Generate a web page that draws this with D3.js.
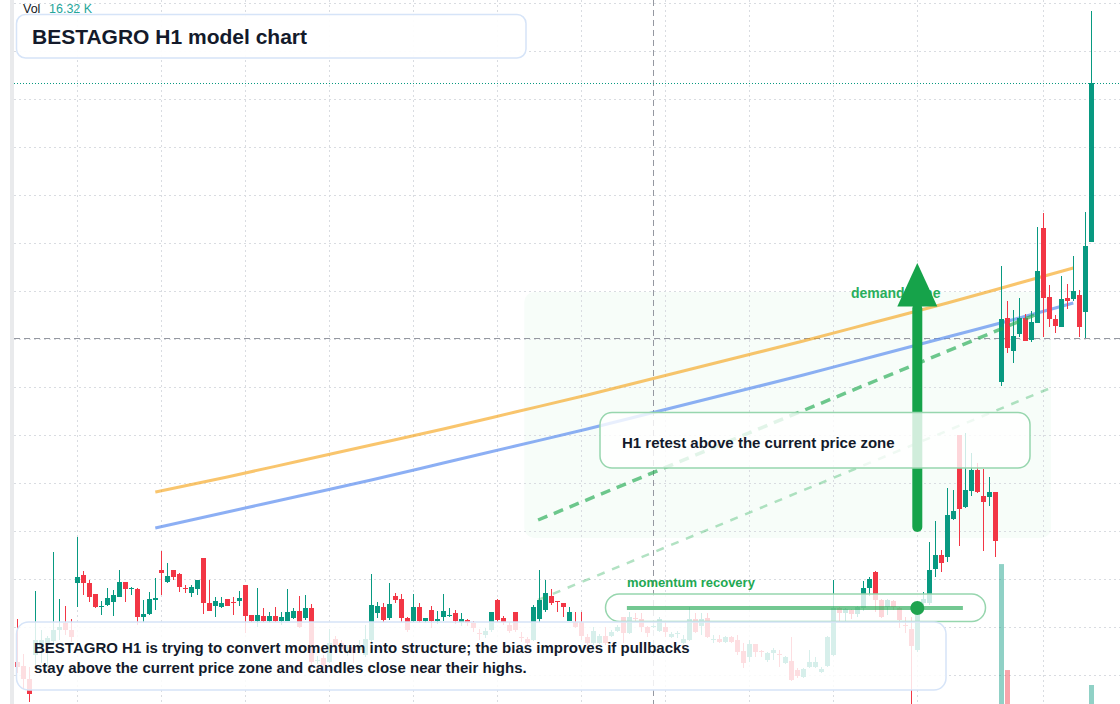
<!DOCTYPE html>
<html><head><meta charset="utf-8">
<script src="https://cdn.jsdelivr.net/npm/d3@7"></script>
<style>
html,body{margin:0;padding:0;background:#fff;}
svg{display:block;font-family:"Liberation Sans",Arial,Helvetica,sans-serif;}
</style></head><body>
<svg id="chart" width="1120" height="704"></svg>
<script>
// ---------- data ----------
const openP = [
.338,.334,.321,.345,.352,.355,.359,.370,.377,.370,
.417,.425,.417,.406,.393,.395,.398,.403,.418,.411,
.411,.383,.386,.400,.430,.418,.430,.426,.412,.407,
.411,.442,.397,.394,.393,.401,.398,.399,.415,.385,
.379,.384,.379,.384,.379,.379,.382,.389,.382,.392,
.339,.342,.338,.361,.357,.349,.353,.350,.345,.360,
.387,.393,.382,.404,.401,.382,.379,.393,.379,.390,
.379,.383,.384,.387,.378,.380,.377,.367,.365,.370,
.400,.382,.375,.388,.363,.361,.360,.381,.390,.404,
.399,.397,.379,.378,.378,.363,.357,.357,.364,.364,
.369,.383,.367,.382,.381,.373,.373,.369,.373,.363,
.366,.357,.360,.381,.374,.382,.360,.361,.358,.363,
.360,.349,.343,.356,.349,.340,.347,.346,.337,.339,
.330,.323,.333,.333,.328,.334,.345,.392,.387,.390,
.386,.392,.412,.428,.400,.393,.399,.392,.375,.371,
.350,.397,.397,.431,.445,.443,.481,.565,.493,.509,
.530,.504,.503,.508,.618,.682,.649,.666,.682,.660,
.677,.772,.703,.681,.673,.702,.701,.705,.688,.758];
const highP = [
.381,.346,.333,.409,.370,.364,.448,.401,.394,.381,
.463,.429,.420,.406,.399,.412,.410,.430,.418,.413,
.412,.400,.408,.422,.449,.437,.430,.427,.415,.415,
.420,.442,.420,.403,.403,.401,.403,.409,.415,.385,
.412,.392,.388,.393,.388,.411,.392,.404,.405,.396,
.344,.345,.371,.364,.360,.355,.355,.360,.375,.426,
.398,.397,.417,.407,.406,.383,.406,.397,.382,.394,
.389,.406,.392,.390,.387,.381,.379,.371,.372,.388,
.401,.384,.378,.388,.368,.363,.395,.430,.420,.411,
.399,.397,.393,.388,.388,.366,.373,.366,.373,.370,
.375,.383,.388,.387,.387,.374,.375,.383,.378,.368,
.369,.365,.393,.387,.387,.387,.365,.365,.364,.364,
.365,.357,.360,.356,.350,.348,.352,.350,.344,.363,
.332,.332,.350,.343,.333,.364,.420,.393,.392,.391,
.394,.419,.423,.429,.401,.401,.400,.393,.383,.383,
.388,.408,.458,.479,.450,.512,.510,.565,.567,.547,
.537,.531,.523,.508,.734,.699,.690,.702,.686,.689,
.773,.787,.715,.685,.724,.716,.744,.710,.788,.989];
const lowP = [
.327,.311,.298,.335,.337,.332,.355,.360,.365,.358,
.393,.405,.398,.392,.385,.394,.384,.403,.398,.405,
.375,.378,.385,.390,.405,.417,.420,.408,.407,.403,
.405,.386,.389,.383,.392,.394,.385,.394,.367,.378,
.373,.378,.377,.378,.375,.379,.381,.372,.380,.332,
.336,.333,.337,.350,.348,.344,.337,.348,.343,.355,
.382,.378,.380,.397,.378,.368,.378,.377,.377,.372,
.376,.379,.383,.376,.374,.374,.368,.360,.362,.368,
.378,.375,.367,.368,.358,.355,.359,.378,.388,.395,
.388,.383,.379,.372,.360,.355,.355,.356,.355,.363,
.368,.357,.366,.378,.368,.363,.372,.368,.363,.362,
.362,.356,.359,.367,.365,.362,.357,.357,.357,.357,
.345,.332,.338,.343,.343,.338,.340,.333,.336,.319,
.322,.322,.332,.332,.327,.333,.344,.379,.378,.381,
.383,.389,.404,.388,.382,.385,.390,.372,.367,.292,
.348,.394,.395,.423,.428,.438,.480,.454,.492,.504,
.507,.449,.494,.443,.614,.647,.637,.663,.659,.658,
.677,.663,.673,.667,.673,.691,.699,.663,.662,.758];
const closeP = [
.333,.321,.306,.360,.360,.362,.370,.373,.370,.363,
.423,.417,.403,.393,.394,.402,.405,.418,.411,.412,
.383,.386,.401,.402,.427,.424,.423,.413,.411,.413,
.420,.397,.389,.399,.397,.394,.397,.402,.384,.379,
.385,.379,.384,.379,.383,.388,.389,.373,.392,.338,
.340,.335,.357,.355,.351,.350,.347,.355,.361,.395,
.394,.380,.396,.400,.382,.370,.393,.379,.382,.379,
.381,.389,.385,.379,.381,.377,.372,.366,.369,.388,
.380,.378,.369,.370,.362,.357,.393,.400,.407,.397,
.398,.393,.388,.373,.364,.357,.369,.364,.357,.368,
.373,.367,.383,.381,.373,.367,.374,.381,.368,.366,
.367,.361,.381,.368,.381,.363,.361,.358,.363,.358,
.348,.337,.356,.348,.348,.347,.350,.345,.343,.320,
.324,.331,.338,.338,.331,.363,.392,.387,.391,.386,
.393,.412,.421,.400,.383,.400,.393,.380,.374,.354,
.386,.401,.430,.445,.437,.485,.489,.491,.510,.530,
.508,.498,.508,.459,.681,.652,.664,.682,.659,.678,
.729,.702,.681,.674,.701,.699,.709,.673,.754,.917];
// volume, thousands
const volumeK = [
2.1,1.4,3.2,1.8,0.9,0.6,2.7,1.2,0.8,1.1,4.6,1.9,2.3,1.7,0.7,1.0,1.3,2.5,1.1,0.5,
3.4,1.2,1.6,0.9,3.8,1.5,0.8,1.9,0.6,0.9,1.3,4.2,1.8,1.1,0.7,0.9,0.8,1.0,3.9,1.2,
2.0,0.9,0.7,1.1,0.8,1.6,1.0,2.2,1.4,5.1,0.8,1.2,2.6,1.3,0.9,0.7,1.5,0.8,1.9,3.6,
1.1,1.7,2.4,0.8,2.1,1.6,1.9,1.8,0.6,1.4,0.7,1.3,0.5,1.2,0.8,0.6,1.1,0.9,1.0,1.7,
2.2,0.8,1.0,1.9,0.9,0.8,3.3,4.1,2.6,1.2,0.7,1.0,1.4,1.1,1.8,1.2,1.5,0.9,1.3,0.6,
0.8,2.0,1.7,0.6,1.2,1.0,0.5,1.4,1.1,0.7,0.6,0.9,2.3,1.6,1.2,2.1,0.7,0.8,0.9,0.7,
1.6,2.4,1.9,1.1,0.6,1.0,0.8,1.3,0.7,3.1,1.2,1.0,1.4,0.9,0.6,2.8,4.9,1.1,0.9,0.8,
1.0,2.6,1.8,3.0,1.7,1.2,0.9,1.6,1.0,4.4,3.2,1.1,4.0,3.5,1.9,5.2,1.4,6.1,4.3,3.0,
2.9,3.7,1.8,5.6,72.7,23.3,4.8,4.1,3.3,2.7,6.8,7.0,3.2,2.0,4.5,1.9,3.4,5.5,7.2,16.32];
// candle indices where the time axis draws a session gridline
const timeGridIdx = [10,24,38,52,66,80,94,108,122,136,150,171];
// moving averages: [candle index, price]
const maOrange = [[23,.508],[35,.523],[47,.539],[59,.555],[71,.571],[83,.588],[95,.605],[107,.623],[119,.641],[131,.659],[143,.678],[155,.697],[167,.717],[176,.732]];
const maBlue   = [[23,.472],[35,.488],[47,.504],[59,.520],[71,.537],[83,.554],[95,.571],[107,.589],[119,.607],[131,.625],[143,.644],[155,.663],[167,.682],[176,.697]];
// drawings
const breakoutLine = [[86.8,.480],[170.4,.687]];
const supportLine  = [[86.8,.400],[171.8,.611]];
const zoneIdx = [84.5,172.3];
const zonePrice = [.462,.708];
const arrowIdx = 150;
const arrowPrice = [.468,.737];
const momentumIdx = [101.6,157.6];
const momentumPrice = .392;
const crosshairIdx = 106;
const crosshairPrice = .6613;
const priceGridStart = .3253, priceGridStep = .048;
const titleText = "BESTAGRO H1 model chart";
const noteLines = ["BESTAGRO H1 is trying to convert momentum into structure; the bias improves if pullbacks",
                   "stay above the current price zone and candles close near their highs."];
const retestText = "H1 retest above the current price zone";
const momentumText = "momentum recovery";
const zoneText = "demand zone";

// ---------- chart ----------
const W = 1120, H = 704, LEFT = 14;
const svg = d3.select('#chart');
const x = d3.scaleLinear().domain([0, 179]).range([17.3, 1091.3]);
const y = d3.scaleLinear().domain([0.296, 1.0]).range([H, 0]);
const vy = d3.scaleLinear().domain([0, 16.32]).range([720, 685]);
const UP = '#089981', DN = '#f23645';

svg.append('rect').attr('x',10).attr('y',0).attr('width',4).attr('height',H).attr('fill','#e9eaec');
svg.append('defs').append('clipPath').attr('id','plot').append('rect')
  .attr('x',LEFT).attr('y',0).attr('width',W-LEFT).attr('height',H);
const g = svg.append('g').attr('clip-path','url(#plot)');

// demand zone
g.append('rect').attr('x',x(zoneIdx[0])).attr('y',y(zonePrice[1]))
  .attr('width',x(zoneIdx[1])-x(zoneIdx[0])).attr('height',y(zonePrice[0])-y(zonePrice[1]))
  .attr('rx',10).attr('fill','#22c55e').attr('fill-opacity',0.035);

// grid
const gridPrices = d3.range(priceGridStart, 1.0001, priceGridStep);
g.append('g').selectAll('line').data(gridPrices).join('line')
  .attr('x1',LEFT).attr('x2',W).attr('y1',d=>Math.round(y(d))+0.5).attr('y2',d=>Math.round(y(d))+0.5)
  .attr('stroke','#d9dce1').attr('stroke-dasharray','2 3');
g.append('g').selectAll('line').data(timeGridIdx).join('line')
  .attr('x1',d=>Math.round(x(d))+0.5).attr('x2',d=>Math.round(x(d))+0.5).attr('y1',0).attr('y2',H)
  .attr('stroke','#d9dce1').attr('stroke-dasharray','2 3');

// crosshair
g.append('line').attr('x1',LEFT).attr('x2',W).attr('y1',Math.floor(y(crosshairPrice))+0.5).attr('y2',Math.floor(y(crosshairPrice))+0.5)
  .attr('stroke','#9598a1').attr('stroke-dasharray','6 4');
g.append('line').attr('x1',Math.round(x(crosshairIdx))+0.5).attr('x2',Math.round(x(crosshairIdx))+0.5).attr('y1',0).attr('y2',H)
  .attr('stroke','#9598a1').attr('stroke-dasharray','6 4');

// last price line
const lastClose = closeP[closeP.length-1];
g.append('line').attr('x1',LEFT).attr('x2',W).attr('y1',Math.round(y(lastClose))+0.5).attr('y2',Math.round(y(lastClose))+0.5)
  .attr('stroke',UP).attr('stroke-dasharray','1 2');

// moving averages
const maLine = d3.line().x(d=>x(d[0])).y(d=>y(d[1])).curve(d3.curveMonotoneX);
g.append('path').attr('d',maLine(maOrange)).attr('fill','none').attr('stroke','#f59e0b').attr('stroke-opacity',0.6).attr('stroke-width',3);
g.append('path').attr('d',maLine(maBlue)).attr('fill','none').attr('stroke','#5b8def').attr('stroke-opacity',0.7).attr('stroke-width',3);

// volume
const idx = d3.range(openP.length);
g.append('g').selectAll('rect').data(idx).join('rect')
  .attr('x',i=>Math.round(x(i)-2.5)).attr('width',5)
  .attr('y',i=>vy(volumeK[i])).attr('height',i=>vy(0)-vy(volumeK[i]))
  .attr('fill',i=>closeP[i]>=openP[i]?UP:DN).attr('fill-opacity',0.45);

// candles
const cg = g.append('g').selectAll('g').data(idx).join('g');
cg.append('line')
  .attr('x1',i=>Math.round(x(i)-2.5)+2.5).attr('x2',i=>Math.round(x(i)-2.5)+2.5)
  .attr('y1',i=>y(highP[i])).attr('y2',i=>y(lowP[i]))
  .attr('stroke',i=>closeP[i]>=openP[i]?UP:DN).attr('stroke-width',1);
cg.append('rect')
  .attr('x',i=>Math.round(x(i)-2.5)).attr('width',5)
  .attr('y',i=>y(Math.max(openP[i],closeP[i])))
  .attr('height',i=>Math.max(1,Math.abs(y(openP[i])-y(closeP[i]))))
  .attr('fill',i=>closeP[i]>=openP[i]?UP:DN);

// projection lines
const seg = d3.line().x(d=>x(d[0])).y(d=>y(d[1]));
g.append('path').attr('d',seg(supportLine)).attr('stroke','#22ab52').attr('stroke-opacity',0.35)
  .attr('stroke-width',2.5).attr('stroke-dasharray','8 8').attr('fill','none');
g.append('path').attr('d',seg(breakoutLine)).attr('stroke','#22ab52').attr('stroke-opacity',0.65)
  .attr('stroke-width',3.5).attr('stroke-dasharray','10 7').attr('fill','none');

// demand zone label (behind arrow)
g.append('text').attr('x',851).attr('y',298).text(zoneText)
  .attr('font-size',14).attr('font-weight',700).attr('fill','#2aae5c');

// arrow
const ax = x(arrowIdx);
const headBase = y(arrowPrice[1]) + 43.5;
g.append('line').attr('x1',ax).attr('x2',ax).attr('y1',y(arrowPrice[0])-5).attr('y2',headBase+2)
  .attr('stroke','#16a34a').attr('stroke-width',10).attr('stroke-linecap','round');
g.append('path').attr('d',`M${ax},${y(arrowPrice[1])} L${ax+20},${headBase} L${ax-20},${headBase} Z`).attr('fill','#16a34a');

// boxes
function box(x0,y0,w,h,r,stroke,fillOp){
  svg.append('rect').attr('x',x0).attr('y',y0).attr('width',w).attr('height',h).attr('rx',r)
    .attr('fill','#ffffff').attr('fill-opacity',fillOp).attr('stroke',stroke).attr('stroke-width',1.5);
}
box(600,412.5,430,55.5,12,'#97d6ae',0.8);
box(605.5,594,380,27.5,13.75,'#97d6ae',0.8);
box(16.5,622,929.5,68,12,'#d6e4f8',0.84);
box(16.5,14.5,509.5,43.5,9,'#d6e4f8',0.93);

// momentum line + dot
svg.append('line').attr('x1',x(momentumIdx[0])).attr('x2',x(momentumIdx[1]))
  .attr('y1',y(momentumPrice)).attr('y2',y(momentumPrice))
  .attr('stroke','#16a34a').attr('stroke-opacity',0.6).attr('stroke-width',4);
svg.append('circle').attr('cx',x(arrowIdx)).attr('cy',y(momentumPrice)).attr('r',7).attr('fill','#1fa34f');

// texts
const dark = '#131a2b';
svg.append('text').attr('x',32).attr('y',43.5).text(titleText).attr('font-size',21).attr('font-weight',700).attr('fill',dark);
svg.append('text').attr('x',622).attr('y',447.5).text(retestText).attr('font-size',15).attr('font-weight',700).attr('fill',dark);
svg.append('text').attr('x',627).attr('y',586.5).text(momentumText).attr('font-size',13).attr('font-weight',700).attr('fill','#22a852');
noteLines.forEach((t,k)=>svg.append('text').attr('x',34).attr('y',653.3+k*20).text(t)
  .attr('font-size',15).attr('font-weight',700).attr('fill',dark));
svg.append('text').attr('x',23).attr('y',13).text('Vol').attr('font-size',12.5).attr('fill','#131722');
svg.append('text').attr('x',49).attr('y',13).text(volumeK[volumeK.length-1].toFixed(2)+' K').attr('font-size',12.5).attr('fill','#26a69a');
</script>
</body></html>
